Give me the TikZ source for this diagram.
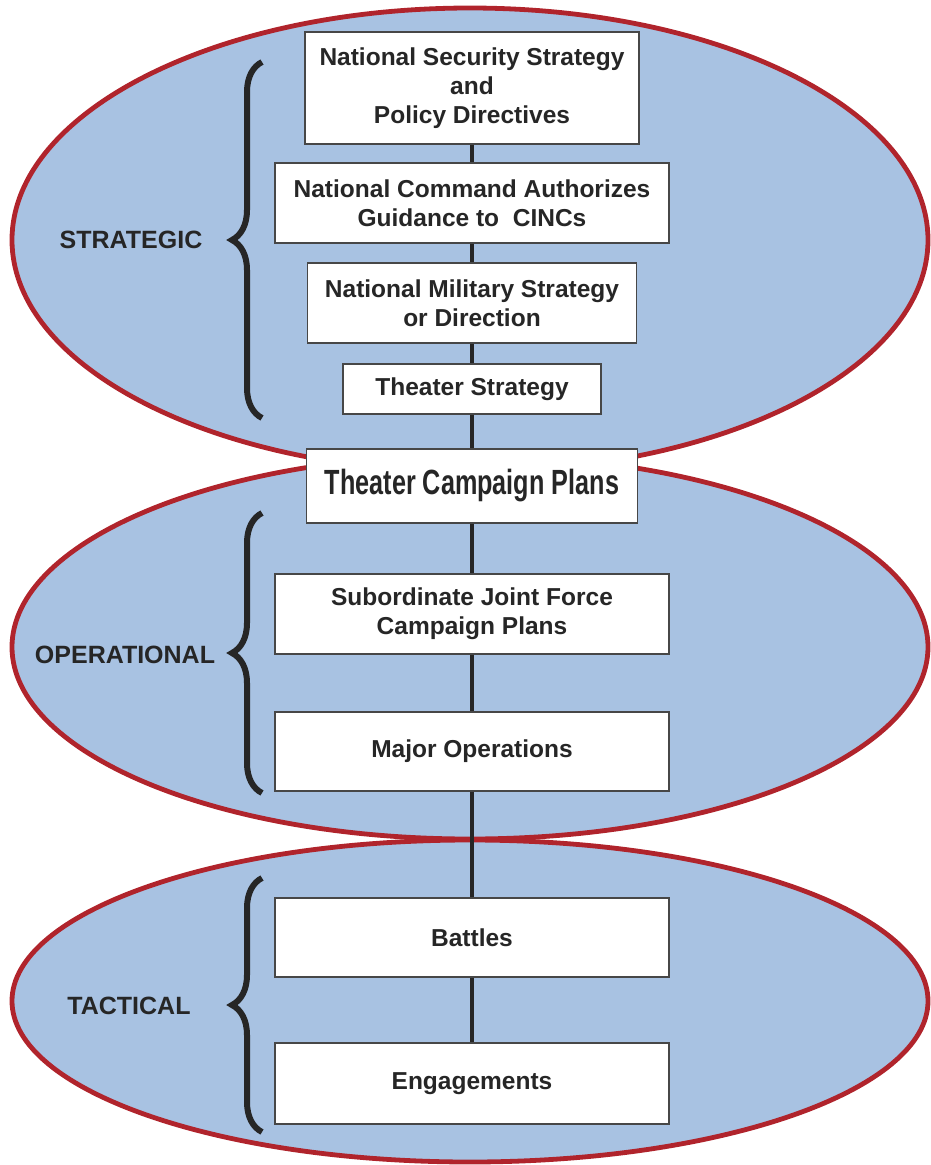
\documentclass[tikz,border=0pt]{standalone}
\usepackage{fontspec}
\setmainfont{Liberation Sans}
\newfontfamily\narrowsans[FakeStretch=0.72]{Liberation Sans}
\usetikzlibrary{decorations.pathreplacing}

\definecolor{levelblue}{RGB}{168,194,226}
\definecolor{levelred}{RGB}{176,36,44}
\definecolor{inkgray}{RGB}{38,38,38}

\tikzset{
  levelbox/.style={draw=inkgray!85, line width=1.2pt, fill=white, align=center,
    inner sep=0pt, text=inkgray, font=\fontsize{24.5}{29}\selectfont\bfseries},
  levelname/.style={text=inkgray, font=\fontsize{25}{30}\selectfont\bfseries},
  levelbrace/.style={decorate, decoration={brace, amplitude=30pt},
    line width=6pt, draw=inkgray},
  link/.style={draw=inkgray, line width=4.5pt}
}

\begin{document}
\begin{tikzpicture}[x=1pt,y=-1pt]
    \useasboundingbox (0,0) rectangle (930,1165);

    % the three levels
    \fill[levelblue] (470,240) ellipse [x radius=458, y radius=232];
    \fill[levelblue] (470,647) ellipse [x radius=458, y radius=192];
    \fill[levelblue] (470,1001) ellipse [x radius=458, y radius=161];
    \draw[levelred, line width=4.8pt] (470,240) ellipse [x radius=458, y radius=232];
    \draw[levelred, line width=4.8pt] (470,647) ellipse [x radius=458, y radius=192];
    \draw[levelred, line width=4.8pt] (470,1001) ellipse [x radius=458, y radius=161];

    \draw[levelbrace] (262,418) -- (262,62);
    \draw[levelbrace] (262,793) -- (262,513);
    \draw[levelbrace] (262,1132) -- (262,878);

    \node[levelname] (strat) at (131,240) {STRATEGIC};
    \node[levelname] (oper) at (125,655) {OPERATIONAL};
    \node[levelname] (tact) at (129,1006) {TACTICAL};

    % boxes
    \node[levelbox, minimum width=334, minimum height=112] (nss) at (472,88)
        {National Security Strategy\\and\\Policy Directives};
    \node[levelbox, minimum width=394, minimum height=80] (nca) at (472,203)
        {National Command Authorizes\\Guidance to \ CINCs};
    \node[levelbox, minimum width=329, minimum height=80] (nms) at (472,303)
        {National Military Strategy\\or Direction};
    \node[levelbox, minimum width=258, minimum height=50] (ths) at (472,389)
        {Theater Strategy};
    \node[levelbox, minimum width=331, minimum height=74] (tcp) at (472,486)
        {\narrowsans\fontsize{35}{40}\selectfont\bfseries Theater Campaign Plans};
    \node[levelbox, minimum width=394, minimum height=80] (sjf) at (472,614)
        {Subordinate Joint Force\\Campaign Plans};
    \node[levelbox, minimum width=394, minimum height=79] (mop) at (472,751.5)
        {Major Operations};
    \node[levelbox, minimum width=394, minimum height=79] (bat) at (472,937.5)
        {Battles};
    \node[levelbox, minimum width=394, minimum height=81] (eng) at (472,1083.5)
        {Engagements};

    \foreach \a/\b in {nss/nca, nca/nms, nms/ths, ths/tcp, tcp/sjf, sjf/mop, mop/bat, bat/eng}
        \draw[link] (\a) -- (\b);
\end{tikzpicture}
\end{document}
